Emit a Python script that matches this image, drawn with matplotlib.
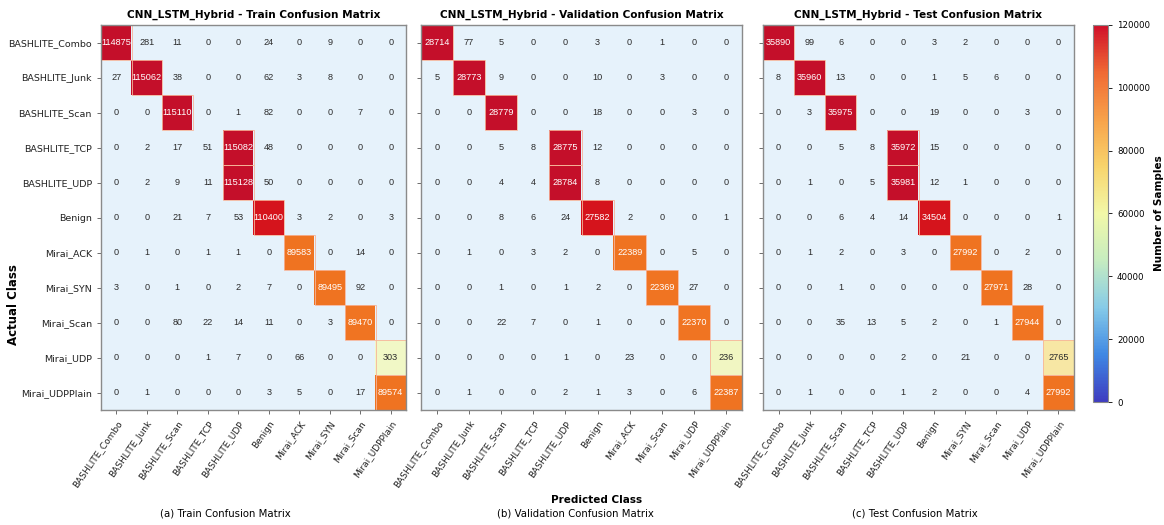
import numpy as np
import matplotlib
matplotlib.use("Agg")
import matplotlib.pyplot as plt
from matplotlib.colors import LinearSegmentedColormap, Normalize
from matplotlib.cm import ScalarMappable

actual_classes = ["BASHLITE_Combo", "BASHLITE_Junk", "BASHLITE_Scan", "BASHLITE_TCP",
                  "BASHLITE_UDP", "Benign", "Mirai_ACK", "Mirai_SYN", "Mirai_Scan",
                  "Mirai_UDP", "Mirai_UDPPlain"]

train_pred_labels = ["BASHLITE_Combo", "BASHLITE_Junk", "BASHLITE_Scan", "BASHLITE_TCP",
                     "BASHLITE_UDP", "Benign", "Mirai_ACK", "Mirai_SYN", "Mirai_Scan",
                     "Mirai_UDPPlain"]
val_pred_labels = ["BASHLITE_Combo", "BASHLITE_Junk", "BASHLITE_Scan", "BASHLITE_TCP",
                   "BASHLITE_UDP", "Benign", "Mirai_ACK", "Mirai_Scan", "Mirai_UDP",
                   "Mirai_UDPPlain"]
test_pred_labels = ["BASHLITE_Combo", "BASHLITE_Junk", "BASHLITE_Scan", "BASHLITE_TCP",
                    "BASHLITE_UDP", "Benign", "Mirai_SYN", "Mirai_Scan", "Mirai_UDP",
                    "Mirai_UDPPlain"]

train_cm = [
    [114875, 281, 11, 0, 0, 24, 0, 9, 0, 0],
    [27, 115062, 38, 0, 0, 62, 3, 8, 0, 0],
    [0, 0, 115110, 0, 1, 82, 0, 0, 7, 0],
    [0, 2, 17, 51, 115082, 48, 0, 0, 0, 0],
    [0, 2, 9, 11, 115128, 50, 0, 0, 0, 0],
    [0, 0, 21, 7, 53, 110400, 3, 2, 0, 3],
    [0, 1, 0, 1, 1, 0, 89583, 0, 14, 0],
    [3, 0, 1, 0, 2, 7, 0, 89495, 92, 0],
    [0, 0, 80, 22, 14, 11, 0, 3, 89470, 0],
    [0, 0, 0, 1, 7, 0, 66, 0, 0, 303],
    [0, 1, 0, 0, 0, 3, 5, 0, 17, 89574],
]

val_cm = [
    [28714, 77, 5, 0, 0, 3, 0, 1, 0, 0],
    [5, 28773, 9, 0, 0, 10, 0, 3, 0, 0],
    [0, 0, 28779, 0, 0, 18, 0, 0, 3, 0],
    [0, 0, 5, 8, 28775, 12, 0, 0, 0, 0],
    [0, 0, 4, 4, 28784, 8, 0, 0, 0, 0],
    [0, 0, 8, 6, 24, 27582, 2, 0, 0, 1],
    [0, 1, 0, 3, 2, 0, 22389, 0, 5, 0],
    [0, 0, 1, 0, 1, 2, 0, 22369, 27, 0],
    [0, 0, 22, 7, 0, 1, 0, 0, 22370, 0],
    [0, 0, 0, 0, 1, 0, 23, 0, 0, 236],
    [0, 1, 0, 0, 2, 1, 3, 0, 6, 22387],
]

test_cm = [
    [35890, 99, 6, 0, 0, 3, 2, 0, 0, 0],
    [8, 35960, 13, 0, 0, 1, 5, 6, 0, 0],
    [0, 3, 35975, 0, 0, 19, 0, 0, 3, 0],
    [0, 0, 5, 8, 35972, 15, 0, 0, 0, 0],
    [0, 1, 0, 5, 35981, 12, 1, 0, 0, 0],
    [0, 0, 6, 4, 14, 34504, 0, 0, 0, 1],
    [0, 1, 2, 0, 3, 0, 27992, 0, 2, 0],
    [0, 0, 1, 0, 0, 0, 0, 27971, 28, 0],
    [0, 0, 35, 13, 5, 2, 0, 1, 27944, 0],
    [0, 0, 0, 0, 2, 0, 21, 0, 0, 2765],
    [0, 1, 0, 0, 1, 2, 0, 0, 4, 27992],
]

panels = [
    ("Train", train_cm, train_pred_labels, "(a) Train Confusion Matrix"),
    ("Validation", val_cm, val_pred_labels, "(b) Validation Confusion Matrix"),
    ("Test", test_cm, test_pred_labels, "(c) Test Confusion Matrix"),
]

# colours for the per-row maximum cells (scaled to each panel's max)
cell_cmap = LinearSegmentedColormap.from_list(
    "cells", [(0.0, "#f1f8c6"), (0.08, "#f8e6a2"), (0.6, "#f8a32c"),
              (0.78, "#f07422"), (0.93, "#e41812"), (1.0, "#c40f2a")])
# colours shown on the shared colour bar
bar_cmap = LinearSegmentedColormap.from_list(
    "bar", ["#3f3cc0", "#3f88e4", "#86cbe8", "#c6ecc0", "#f2f8a8",
            "#f8d46c", "#f7a24a", "#f06a34", "#d0102a"])

num_font = ["Liberation Sans", "DejaVu Sans"]

fig = plt.figure(figsize=(11.64, 5.25), dpi=100)
fig.patch.set_facecolor("white")

positions = [
    [101 / 1164, 115 / 525, 305 / 1164, 385 / 525],
    [421 / 1164, 115 / 525, 321 / 1164, 385 / 525],
    [763 / 1164, 115 / 525, 311 / 1164, 385 / 525],
]
caption_x = [225 / 1164, 575 / 1164, 915 / 1164]

for (name, cm, pred_labels, caption), pos, cx in zip(panels, positions, caption_x):
    ax = fig.add_axes(pos)
    data = np.array(cm, dtype=float)
    nrows, ncols = data.shape
    row_max = data.argmax(axis=1)
    keep = np.zeros_like(data, dtype=bool)
    keep[np.arange(nrows), row_max] = True
    shown = np.ma.masked_where(~keep, data / data.max())

    ax.set_facecolor("#e6f2fb")
    ax.imshow(shown, cmap=cell_cmap, vmin=0, vmax=1, aspect="auto",
              interpolation="nearest")
    for r, c in zip(range(nrows), row_max):
        ax.add_patch(plt.Rectangle((c - 0.5, r - 0.5), 1, 1, fill=False,
                                   edgecolor="#f6b59a", linewidth=0.6))

    for r in range(nrows):
        for c in range(ncols):
            v = int(data[r, c])
            if keep[r, c] and data[r, c] / data.max() > 0.3:
                color = "white"
            else:
                color = "#2b2b2b"
            ax.text(c, r, str(v), ha="center", va="center", fontsize=6.6,
                    color=color, family=num_font)

    ax.set_xticks(range(ncols))
    ax.set_xticklabels(pred_labels, rotation=55, ha="right",
                       rotation_mode="anchor", fontsize=6.5)
    ax.set_yticks(range(nrows))
    if name == "Train":
        ax.set_yticklabels(actual_classes, fontsize=6.8)
    else:
        ax.set_yticklabels([])
        ax.tick_params(axis="y", length=0)
    ax.tick_params(axis="both", colors="#555555", labelcolor="#222222",
                   width=0.6, length=3)
    for s in ax.spines.values():
        s.set_color("#8a8a8a")
        s.set_linewidth(1.0)
    ax.set_title(f"CNN_LSTM_Hybrid - {name} Confusion Matrix",
                 fontsize=7.6, fontweight="bold", pad=5)
    fig.text(cx, 0.012, caption, ha="center", va="bottom", fontsize=7.3)

fig.text(597 / 1164, 0.038, "Predicted Class", ha="center", va="bottom",
         fontsize=7.5, fontweight="bold")
fig.text(0.012, 0.42, "Actual Class", rotation=90, ha="center", va="center",
         fontsize=8.5, fontweight="bold")

cax = fig.add_axes([1093 / 1164, 123 / 525, 15 / 1164, 377 / 525])
sm = ScalarMappable(norm=Normalize(0, 120000), cmap=bar_cmap)
cb = fig.colorbar(sm, cax=cax, ticks=np.arange(0, 120001, 20000))
cb.ax.tick_params(labelsize=6.2, width=0.6, length=3)
cb.outline.set_edgecolor("#8a8a8a")
cb.set_label("Number of Samples", fontsize=7.5, fontweight="bold", labelpad=3)

fig.savefig("out.png", dpi=100)
